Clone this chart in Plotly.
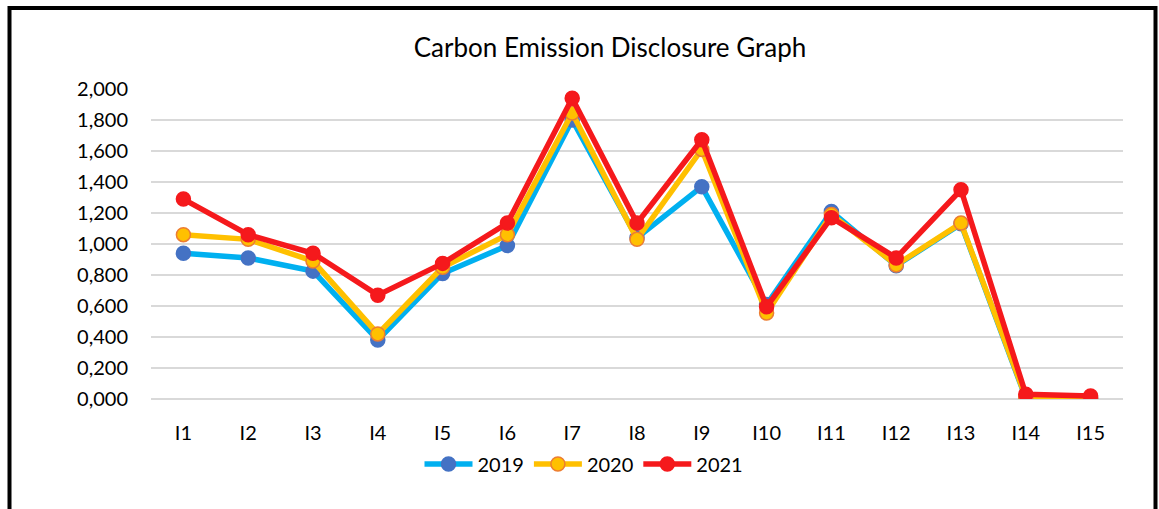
import plotly.graph_objects as go

categories = ["I1", "I2", "I3", "I4", "I5", "I6", "I7", "I8", "I9", "I10", "I11", "I12", "I13", "I14", "I15"]
y2019 = [0.94, 0.91, 0.825, 0.38, 0.81, 0.99, 1.80, 1.04, 1.37, 0.61, 1.21, 0.86, 1.13, 0.005, 0.005]
y2020 = [1.06, 1.03, 0.89, 0.42, 0.85, 1.06, 1.845, 1.03, 1.61, 0.555, 1.19, 0.865, 1.135, 0.01, 0.005]
y2021 = [1.29, 1.06, 0.94, 0.67, 0.875, 1.135, 1.94, 1.135, 1.673, 0.595, 1.17, 0.91, 1.35, 0.03, 0.02]
tick_vals = [0, 0.2, 0.4, 0.6, 0.8, 1.0, 1.2, 1.4, 1.6, 1.8, 2.0]
tick_text = ["0,000", "0,200", "0,400", "0,600", "0,800", "1,000", "1,200", "1,400", "1,600", "1,800", "2,000"]

FONT = "Lato, 'Open Sans', sans-serif"

fig = go.Figure()
series = [
    ("2019", y2019, "#00B0F0", "#4472C4", "#4472C4"),
    ("2020", y2020, "#FFC000", "#FFC000", "#ED7D31"),
    ("2021", y2021, "#F5191C", "#F5191C", "#F5191C"),
]
for name, ys, lc, mc, mlc in series:
    fig.add_trace(go.Scatter(
        x=categories, y=ys, name=name, mode="lines+markers",
        line=dict(color=lc, width=5.5),
        marker=dict(size=14, color=mc, line=dict(color=mlc, width=1.5)),
    ))

W, H = 1159, 509
L, R, T, B = 151, 36, 89, 110
pw, ph = W - L - R, H - T - B

def px(x):
    return (x - L) / pw

def py(y):
    return (H - B - y) / ph

fig.update_layout(
    width=W, height=H,
    margin=dict(l=L, r=R, t=T, b=B),
    paper_bgcolor="white", plot_bgcolor="white",
    font=dict(family=FONT, color="#000000", size=20),
    title=dict(text="Carbon Emission Disclosure Graph", x=px(610), xref="paper", xanchor="center",
               y=1 - 48 / H, yref="container", yanchor="middle",
               font=dict(family=FONT, size=26, color="#000000")),
    xaxis=dict(showgrid=False, showline=False, ticks="", ticklabelstandoff=20,
               range=[-0.5, 14.5], autorange=False,
               tickfont=dict(size=20, color="#000000")),
    yaxis=dict(range=[0, 2.0], tickvals=tick_vals, ticktext=tick_text,
               showgrid=True, gridcolor="#D9D9D9", gridwidth=1.5,
               zeroline=True, zerolinecolor="#D9D9D9", zerolinewidth=1.5,
               showline=False, ticks="", ticklabelstandoff=22,
               tickfont=dict(size=20, color="#000000")),
    legend=dict(orientation="h", x=px(584), xanchor="center", y=py(464), yanchor="middle",
                font=dict(size=20, color="#000000"), itemwidth=48, tracegroupgap=0),
    showlegend=True,
    shapes=[dict(type="rect", xref="paper", yref="paper",
                 x0=px(9.5), x1=px(1155.5), y0=py(530), y1=py(8),
                 line=dict(color="black", width=4), fillcolor="rgba(0,0,0,0)", layer="above")],
)

fig.write_html("out.html", config={"displayModeBar": False},
               post_script="document.body.style.margin='0';document.body.style.padding='0';")
